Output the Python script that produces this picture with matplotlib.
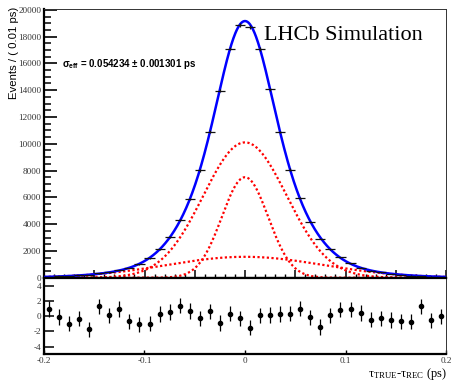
import numpy as np
import matplotlib
matplotlib.use("Agg")
import matplotlib.pyplot as plt
from matplotlib.ticker import MultipleLocator

# ─── Data ───────────────────────────────────────────────────────────────
bin_width = 0.01
bin_centers = np.round(np.arange(-0.195, 0.2, 0.01), 3)

events = [76, 93, 116, 166, 200, 321, 402, 562, 725, 1007,
          1441, 2122, 3023, 4293, 5897, 8013, 10913, 13952, 17102, 18873,
          18705, 17069, 14079, 10876, 8067, 5920, 4194, 2915, 2113, 1512,
          1070, 755, 530, 395, 291, 216, 161, 142, 89, 68]

pulls = [0.96, -0.1, -0.96, -0.3, -1.7, 1.3, 0.1, 0.96, -0.65, -1.04,
         -1.0, 0.3, 0.57, 1.4, 0.7, -0.26, 0.65, -0.9, 0.35, -0.26,
         -1.48, 0.1, 0.17, 0.3, 0.35, 1.0, -0.13, -1.4, 0.1, 0.87,
         0.9, 0.43, -0.43, -0.26, -0.48, -0.65, -0.7, 1.3, -0.52, 0.0]

# fit model: three gaussian components centred at zero
comp_amp = [7500.0, 10100.0, 1560.0]
comp_sigma = [0.023, 0.0415, 0.078]
comp_mean = [0.0, 0.0, 0.0]

sigma_eff_text = "σ$_{\\mathsf{eff}}$ = 0.054234 ± 0.001301 ps"
x_label = "τ$_{\\mathrm{TRUE}}$-τ$_{\\mathrm{REC}}$ (ps)"
y_label = "Events / ( 0.01 ps)"

# ─── Style ──────────────────────────────────────────────────────────────
SERIF = "Liberation Serif"
SANS = "Liberation Sans"
TICK_COLOR = "#333333"
plt.rcParams["mathtext.fontset"] = "custom"
plt.rcParams["mathtext.rm"] = "Liberation Serif"
plt.rcParams["mathtext.it"] = "Liberation Serif:italic"
plt.rcParams["mathtext.sf"] = "Liberation Sans:bold"

fig = plt.figure(figsize=(4.53, 3.82), dpi=100)
W, H = 453.0, 382.0
L, R = 44.0, 446.0
ax = fig.add_axes([L / W, (H - 277.7) / H, (R - L) / W, (277.7 - 9.0) / H])
axp = fig.add_axes([L / W, (H - 354.0) / H, (R - L) / W, (354.0 - 277.7) / H])

# ─── Top panel ──────────────────────────────────────────────────────────
xs = np.linspace(-0.2, 0.2, 801)
total = np.zeros_like(xs)
for a, s, m in zip(comp_amp, comp_sigma, comp_mean):
    g = a * np.exp(-0.5 * ((xs - m) / s) ** 2)
    total += g
    ax.plot(xs, g, color="#ff0000", lw=1.6, ls=(0, (1, 1.1)), zorder=2)
ax.plot(xs, total, color="#0000ff", lw=1.8, zorder=3)

ev = np.array(events, dtype=float)
ax.errorbar(bin_centers, ev, xerr=bin_width / 2, yerr=np.sqrt(ev),
            fmt="none", ecolor="#111111", elinewidth=0.9, capsize=0, zorder=4)

ax.set_xlim(-0.2, 0.2)
ax.set_ylim(0, 20060)
ax.xaxis.set_major_locator(MultipleLocator(0.05))
ax.xaxis.set_minor_locator(MultipleLocator(0.01))
ax.yaxis.set_major_locator(MultipleLocator(2000))
ax.yaxis.set_minor_locator(MultipleLocator(500))
ax.tick_params(axis="x", which="both", direction="in", labelbottom=False)
ax.tick_params(axis="x", which="major", length=6, width=1.1)
ax.tick_params(axis="x", which="minor", length=3, width=1.0)
ax.tick_params(axis="y", which="major", direction="in", length=9.5, width=1.2,
               pad=2, labelsize=6.6, labelcolor=TICK_COLOR)
ax.tick_params(axis="y", which="minor", direction="in", length=5, width=1.1)
for lab in ax.get_yticklabels():
    lab.set_fontfamily(SERIF)

for side in ("left", "bottom"):
    ax.spines[side].set_linewidth(1.6)
for side in ("top", "right"):
    ax.spines[side].set_linewidth(0.7)
    ax.spines[side].set_color("#333333")

ax.text(0.547, 0.903, "LHCb Simulation", transform=ax.transAxes,
        fontfamily=SERIF, fontsize=16, ha="left", va="center")
ax.text(0.045, 0.795, sigma_eff_text, transform=ax.transAxes,
        fontfamily=SANS, fontweight="bold", fontsize=7.0, ha="left", va="center")

fig.text(14 / W, (H - 7) / H, y_label, rotation=90,
         fontfamily=SANS, fontsize=8.2, ha="center", va="top")

# ─── Pull panel ─────────────────────────────────────────────────────────
axp.errorbar(bin_centers, pulls, yerr=1.0, fmt="o", ms=3.0, color="black",
             ecolor="black", elinewidth=0.9, capsize=0)
axp.set_xlim(-0.2, 0.2)
axp.set_ylim(-4.95, 5.05)
axp.set_xticks([-0.2, -0.1, 0.0, 0.1, 0.2])
axp.set_xticklabels(["-0.2", "-0.1", "0", "0.1", "0.2"])
axp.set_yticks([-4, -2, 0, 2, 4])
axp.set_yticklabels(["-4", "-2", "0", "2", "4"])
axp.tick_params(axis="x", direction="in", length=3, width=1.0, pad=2,
                labelsize=6.6, labelcolor=TICK_COLOR)
axp.tick_params(axis="y", direction="in", length=7, width=1.1, pad=2,
                labelsize=6.6, labelcolor=TICK_COLOR)
for lab in axp.get_xticklabels() + axp.get_yticklabels():
    lab.set_fontfamily(SERIF)
for side in ("left", "bottom", "top"):
    axp.spines[side].set_linewidth(1.6)
axp.spines["right"].set_linewidth(0.7)
axp.spines["right"].set_color("#333333")

fig.text(447 / W, (H - 374) / H, x_label,
         fontfamily=SERIF, fontsize=9, ha="right", va="center")

fig.savefig("out.png", dpi=100)
